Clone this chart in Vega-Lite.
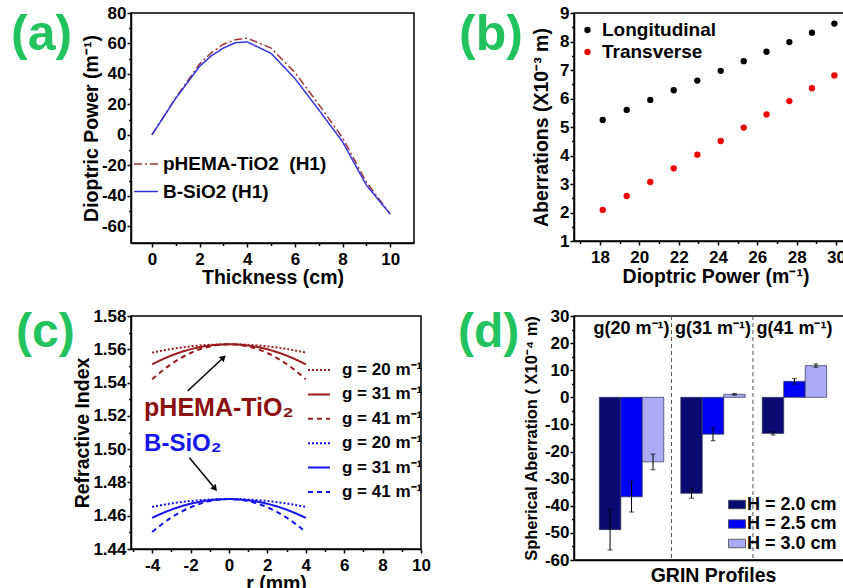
{
  "$schema": "https://vega.github.io/schema/vega-lite/v6.json",
  "padding": {"left": 10, "top": 3, "right": 0, "bottom": 0},
  "columns": 2,
  "bounds": "flush",
  "spacing": {"row": 73, "column": 153},
  "resolve": {"scale": {"color": "independent", "strokeDash": "independent", "xOffset": "independent"}, "legend": {"color": "independent", "strokeDash": "independent"}},
  "config": {
    "font": "Liberation Sans",
    "view": {"stroke": "black", "strokeWidth": 1.5},
    "title": {"anchor": "start", "frame": "group", "fontSize": 50, "fontWeight": "bold", "color": "#22c35e", "baseline": "alphabetic", "offset": 0, "font": "Liberation Sans"},
    "axis": {"labelFont": "Liberation Sans", "labelFontSize": 17, "labelFontWeight": "bold", "labelColor": "black", "titleFont": "Liberation Sans", "titleFontSize": 19.5, "titleFontWeight": "bold", "titleColor": "black", "domainColor": "black", "domainWidth": 1.5, "tickColor": "black", "tickWidth": 1.5, "grid": false, "labelFlush": false, "labelOverlap": false, "labelBound": false},
    "axisX": {"labelPadding": 4, "titlePadding": 1},
    "axisY": {"labelPadding": 1, "titlePadding": 0},
    "legend": {"labelFont": "Liberation Sans", "labelFontWeight": "bold", "labelColor": "black", "padding": 0, "orient": "none", "labelLimit": 300}
  },
  "concat": [
    {
      "width": 283, "height": 230,
      "title": {"text": "(a)", "dx": -120, "dy": 60},
      "data": {"values": [
        {"s": "pHEMA-TiO2 \u00a0(H1)", "t": 0, "p": 0}, {"s": "pHEMA-TiO2 \u00a0(H1)", "t": 1, "p": 24.5}, {"s": "pHEMA-TiO2 \u00a0(H1)", "t": 2, "p": 46.5}, {"s": "pHEMA-TiO2 \u00a0(H1)", "t": 2.5, "p": 54}, {"s": "pHEMA-TiO2 \u00a0(H1)", "t": 3, "p": 59.5}, {"s": "pHEMA-TiO2 \u00a0(H1)", "t": 3.5, "p": 62.5}, {"s": "pHEMA-TiO2 \u00a0(H1)", "t": 4, "p": 63.5}, {"s": "pHEMA-TiO2 \u00a0(H1)", "t": 5, "p": 57}, {"s": "pHEMA-TiO2 \u00a0(H1)", "t": 6, "p": 41}, {"s": "pHEMA-TiO2 \u00a0(H1)", "t": 7, "p": 20}, {"s": "pHEMA-TiO2 \u00a0(H1)", "t": 8, "p": -2}, {"s": "pHEMA-TiO2 \u00a0(H1)", "t": 9, "p": -31}, {"s": "pHEMA-TiO2 \u00a0(H1)", "t": 10, "p": -52},
        {"s": "B-SiO2 (H1)", "t": 0, "p": 0}, {"s": "B-SiO2 (H1)", "t": 1, "p": 24}, {"s": "B-SiO2 (H1)", "t": 2, "p": 45}, {"s": "B-SiO2 (H1)", "t": 2.5, "p": 52}, {"s": "B-SiO2 (H1)", "t": 3, "p": 57}, {"s": "B-SiO2 (H1)", "t": 3.5, "p": 60.5}, {"s": "B-SiO2 (H1)", "t": 4, "p": 61}, {"s": "B-SiO2 (H1)", "t": 5, "p": 53.5}, {"s": "B-SiO2 (H1)", "t": 6, "p": 37}, {"s": "B-SiO2 (H1)", "t": 7, "p": 16.5}, {"s": "B-SiO2 (H1)", "t": 8, "p": -4.5}, {"s": "B-SiO2 (H1)", "t": 9, "p": -33}, {"s": "B-SiO2 (H1)", "t": 10, "p": -52}
      ]},
      "mark": {"type": "line", "strokeWidth": 1.5},
      "encoding": {
        "x": {"field": "t", "type": "quantitative", "scale": {"domain": [-0.88, 11], "nice": false, "zero": false},
          "axis": {"title": "Thickness (cm)", "values": [0,1,2,3,4,5,6,7,8,9,10], "labelExpr": "datum.value % 2 === 0 ? datum.label : ''", "tickSize": {"condition": {"test": "datum.value % 2 !== 0", "value": 2.5}, "value": 4}}},
        "y": {"field": "p", "type": "quantitative", "scale": {"domain": [-71, 80], "nice": false},
          "axis": {"title": "Dioptric Power (m⁻¹)", "values": [-60,-50,-40,-30,-20,-10,0,10,20,30,40,50,60,70,80], "labelExpr": "datum.value % 20 === 0 ? replace(datum.label, '−', '-') : ''", "tickSize": {"condition": {"test": "datum.value % 20 !== 0", "value": 2.5}, "value": 4}}},
        "color": {"field": "s", "type": "nominal", "scale": {"domain": ["pHEMA-TiO2 \u00a0(H1)", "B-SiO2 (H1)"], "range": ["#9a3434", "#3535e0"]},
          "legend": {"title": null, "legendX": 2, "legendY": 138, "symbolType": "stroke", "symbolSize": 576, "symbolStrokeWidth": 1.5, "labelFontSize": 19, "labelOffset": 4, "rowPadding": 4.5}},
        "strokeDash": {"field": "s", "type": "nominal", "scale": {"domain": ["pHEMA-TiO2 \u00a0(H1)", "B-SiO2 (H1)"], "range": [[8,3,2,3],[1,0]]},
          "legend": {"title": null, "legendX": 2, "legendY": 138, "symbolType": "stroke", "symbolSize": 576, "symbolStrokeWidth": 1.5, "labelFontSize": 19, "labelOffset": 4, "rowPadding": 4.5}}
      }
    },
    {
      "width": 283, "height": 228,
      "title": {"text": "(b)", "dx": -115, "dy": 60},
      "data": {"values": [
        {"s": "Longitudinal", "d": 18.14, "a": 5.25}, {"s": "Longitudinal", "d": 19.36, "a": 5.6}, {"s": "Longitudinal", "d": 20.56, "a": 5.95}, {"s": "Longitudinal", "d": 21.75, "a": 6.29}, {"s": "Longitudinal", "d": 22.95, "a": 6.63}, {"s": "Longitudinal", "d": 24.14, "a": 6.97}, {"s": "Longitudinal", "d": 25.31, "a": 7.31}, {"s": "Longitudinal", "d": 26.47, "a": 7.64}, {"s": "Longitudinal", "d": 27.63, "a": 7.98}, {"s": "Longitudinal", "d": 28.78, "a": 8.31}, {"s": "Longitudinal", "d": 29.92, "a": 8.63},
        {"s": "Transverse", "d": 18.14, "a": 2.09}, {"s": "Transverse", "d": 19.36, "a": 2.58}, {"s": "Transverse", "d": 20.56, "a": 3.07}, {"s": "Transverse", "d": 21.75, "a": 3.55}, {"s": "Transverse", "d": 22.95, "a": 4.03}, {"s": "Transverse", "d": 24.14, "a": 4.51}, {"s": "Transverse", "d": 25.31, "a": 4.98}, {"s": "Transverse", "d": 26.47, "a": 5.44}, {"s": "Transverse", "d": 27.63, "a": 5.91}, {"s": "Transverse", "d": 28.78, "a": 6.36}, {"s": "Transverse", "d": 29.92, "a": 6.81}
      ]},
      "mark": {"type": "circle", "size": 40, "opacity": 1},
      "encoding": {
        "x": {"field": "d", "type": "quantitative", "scale": {"domain": [16.68, 31.07], "nice": false, "zero": false},
          "axis": {"title": "Dioptric Power (m⁻¹)", "titlePadding": 2, "values": [17,18,19,20,21,22,23,24,25,26,27,28,29,30,31], "labelExpr": "datum.value % 2 === 0 ? datum.label : ''", "tickSize": {"condition": {"test": "datum.value % 2 !== 0", "value": 2.5}, "value": 4}}},
        "y": {"field": "a", "type": "quantitative", "scale": {"domain": [1, 9], "nice": false, "zero": false},
          "axis": {"title": "Aberrations (X10⁻³ m)", "titlePadding": 8, "values": [1,1.5,2,2.5,3,3.5,4,4.5,5,5.5,6,6.5,7,7.5,8,8.5,9], "labelExpr": "datum.value % 1 === 0 ? format(datum.value, 'd') : ''", "tickSize": {"condition": {"test": "datum.value % 1 !== 0", "value": 2.5}, "value": 4}}},
        "color": {"field": "s", "type": "nominal", "scale": {"domain": ["Longitudinal", "Transverse"], "range": ["#000000", "#f00000"]},
          "legend": {"title": null, "legendX": 4, "legendY": 7.5, "symbolType": "circle", "symbolSize": 40, "labelFontSize": 19, "labelOffset": 5, "rowPadding": 2}}
      }
    },
    {
      "width": 290, "height": 233,
      "title": {"text": "(c)", "dx": -115, "dy": 54, "fontSize": 48},
      "encoding": {
        "x": {"field": "r", "type": "quantitative", "scale": {"domain": [-5.1, 10], "nice": false, "zero": false},
          "axis": {"title": "r (mm)", "values": [-5,-4,-3,-2,-1,0,1,2,3,4,5,6,7,8,9,10], "labelExpr": "datum.value % 2 === 0 ? replace(datum.label, '−', '-') : ''", "tickSize": {"condition": {"test": "datum.value % 2 !== 0", "value": 2.5}, "value": 4}}},
        "y": {"field": "n", "type": "quantitative", "scale": {"domain": [1.44, 1.58], "nice": false, "zero": false},
          "axis": {"title": "Refractive Index", "values": [1.44,1.45,1.46,1.47,1.48,1.49,1.5,1.51,1.52,1.53,1.54,1.55,1.56,1.57,1.58], "labelExpr": "round(datum.value*100) % 2 === 0 ? format(datum.value, '.2f') : ''", "tickSize": {"condition": {"test": "round(datum.value*100) % 2 !== 0", "value": 2.5}, "value": 4}}}
      },
      "layer": [
        {
          "data": {"values": [
            {"s": "P20", "r": -4, "n": 1.558}, {"s": "P20", "r": -3, "n": 1.56019}, {"s": "P20", "r": -2, "n": 1.56175}, {"s": "P20", "r": -1, "n": 1.56269}, {"s": "P20", "r": 0, "n": 1.563}, {"s": "P20", "r": 1, "n": 1.56269}, {"s": "P20", "r": 2, "n": 1.56175}, {"s": "P20", "r": 3, "n": 1.56019}, {"s": "P20", "r": 4, "n": 1.558},
            {"s": "P31", "r": -4, "n": 1.55098}, {"s": "P31", "r": -3, "n": 1.55624}, {"s": "P31", "r": -2, "n": 1.56}, {"s": "P31", "r": -1, "n": 1.56225}, {"s": "P31", "r": 0, "n": 1.563}, {"s": "P31", "r": 1, "n": 1.56225}, {"s": "P31", "r": 2, "n": 1.56}, {"s": "P31", "r": 3, "n": 1.55624}, {"s": "P31", "r": 4, "n": 1.55098},
            {"s": "P41", "r": -4, "n": 1.54198}, {"s": "P41", "r": -3, "n": 1.55118}, {"s": "P41", "r": -2, "n": 1.55775}, {"s": "P41", "r": -1, "n": 1.56169}, {"s": "P41", "r": 0, "n": 1.563}, {"s": "P41", "r": 1, "n": 1.56169}, {"s": "P41", "r": 2, "n": 1.55775}, {"s": "P41", "r": 3, "n": 1.55118}, {"s": "P41", "r": 4, "n": 1.54198},
            {"s": "B20", "r": -4, "n": 1.4653}, {"s": "B20", "r": -3, "n": 1.46735}, {"s": "B20", "r": -2, "n": 1.46882}, {"s": "B20", "r": -1, "n": 1.46971}, {"s": "B20", "r": 0, "n": 1.47}, {"s": "B20", "r": 1, "n": 1.46971}, {"s": "B20", "r": 2, "n": 1.46882}, {"s": "B20", "r": 3, "n": 1.46735}, {"s": "B20", "r": 4, "n": 1.4653},
            {"s": "B31", "r": -4, "n": 1.4587}, {"s": "B31", "r": -3, "n": 1.46364}, {"s": "B31", "r": -2, "n": 1.46717}, {"s": "B31", "r": -1, "n": 1.46929}, {"s": "B31", "r": 0, "n": 1.47}, {"s": "B31", "r": 1, "n": 1.46929}, {"s": "B31", "r": 2, "n": 1.46717}, {"s": "B31", "r": 3, "n": 1.46364}, {"s": "B31", "r": 4, "n": 1.4587},
            {"s": "B41", "r": -4, "n": 1.45023}, {"s": "B41", "r": -3, "n": 1.45888}, {"s": "B41", "r": -2, "n": 1.46506}, {"s": "B41", "r": -1, "n": 1.46876}, {"s": "B41", "r": 0, "n": 1.47}, {"s": "B41", "r": 1, "n": 1.46876}, {"s": "B41", "r": 2, "n": 1.46506}, {"s": "B41", "r": 3, "n": 1.45888}, {"s": "B41", "r": 4, "n": 1.45023}
          ]},
          "mark": {"type": "line", "strokeWidth": 2, "interpolate": "monotone"},
          "encoding": {
            "color": {"field": "s", "type": "nominal", "scale": {"domain": ["P20","P31","P41","B20","B31","B41"], "range": ["#9a1c1c","#9a1c1c","#9a1c1c","#1414f0","#1414f0","#1414f0"]},
              "legend": {"title": null, "legendX": 176, "legendY": 42, "symbolType": "stroke", "symbolSize": 484, "symbolStrokeWidth": 2, "labelFontSize": 17, "labelOffset": 11, "rowPadding": 4.4, "labelExpr": "'g = ' + substring(datum.label, 1) + ' m⁻¹'"}},
            "strokeDash": {"field": "s", "type": "nominal", "scale": {"domain": ["P20","P31","P41","B20","B31","B41"], "range": [[2,2],[1,0],[5,4],[2,2],[1,0],[5,4]]},
              "legend": {"title": null, "legendX": 176, "legendY": 42, "symbolType": "stroke", "symbolSize": 484, "symbolStrokeWidth": 2, "labelFontSize": 17, "labelOffset": 11, "rowPadding": 4.4, "labelExpr": "'g = ' + substring(datum.label, 1) + ' m⁻¹'"}}
          }
        },
        {
          "data": {"values": [{"r": -4.42, "n": 1.525, "t": "pHEMA-TiO₂"}]},
          "mark": {"type": "text", "align": "left", "baseline": "middle", "fontSize": 25, "fontWeight": "bold", "color": "#8b1010"},
          "encoding": {"text": {"field": "t"}}
        },
        {
          "data": {"values": [{"r": -4.42, "n": 1.5031, "t": "B-SiO₂"}]},
          "mark": {"type": "text", "align": "left", "baseline": "middle", "fontSize": 24, "fontWeight": "bold", "color": "#1515ee"},
          "encoding": {"text": {"field": "t"}}
        },
        {
          "data": {"values": [{"r": -2.15, "n": 1.5349, "r2": -0.324, "n2": 1.5546}, {"r": -2.06, "n": 1.4948, "r2": -0.76, "n2": 1.4768}]},
          "mark": {"type": "rule", "strokeWidth": 1.5, "color": "black"},
          "encoding": {"x2": {"field": "r2"}, "y2": {"field": "n2"}}
        },
        {
          "data": {"values": [{"r": -0.324, "n": 1.5546}]},
          "mark": {"type": "point", "shape": "triangle", "angle": 47, "filled": true, "size": 50, "color": "black", "opacity": 1},
          "encoding": {}
        },
        {
          "data": {"values": [{"r": -0.76, "n": 1.4768}]},
          "mark": {"type": "point", "shape": "triangle", "angle": 140, "filled": true, "size": 50, "color": "black", "opacity": 1},
          "encoding": {}
        }
      ]
    },
    {
      "width": 278, "height": 244,
      "title": {"text": "(d)", "dx": -116, "dy": 54, "fontSize": 48},
      "layer": [
        {
          "data": {"values": [
            {"g": "g(20 m⁻¹)", "H": "H = 2.0 cm", "v": -48.8, "lo": -56.3, "hi": -41.3},
            {"g": "g(20 m⁻¹)", "H": "H = 2.5 cm", "v": -36.7, "lo": -42.3, "hi": -31.1},
            {"g": "g(20 m⁻¹)", "H": "H = 3.0 cm", "v": -23.8, "lo": -26.7, "hi": -20.9},
            {"g": "g(31 m⁻¹)", "H": "H = 2.0 cm", "v": -35.4, "lo": -37.2, "hi": -33.6},
            {"g": "g(31 m⁻¹)", "H": "H = 2.5 cm", "v": -13.6, "lo": -16.0, "hi": -11.2},
            {"g": "g(31 m⁻¹)", "H": "H = 3.0 cm", "v": 1.1, "lo": 0.8, "hi": 1.4},
            {"g": "g(41 m⁻¹)", "H": "H = 2.0 cm", "v": -13.3, "lo": -13.9, "hi": -12.7},
            {"g": "g(41 m⁻¹)", "H": "H = 2.5 cm", "v": 5.9, "lo": 4.9, "hi": 6.9},
            {"g": "g(41 m⁻¹)", "H": "H = 3.0 cm", "v": 11.7, "lo": 11.1, "hi": 12.3}
          ]},
          "layer": [
            {
              "mark": {"type": "bar", "stroke": "#333355", "strokeWidth": 0.7},
              "encoding": {
                "x": {"field": "g", "type": "nominal", "scale": {"domain": ["g(20 m⁻¹)", "g(31 m⁻¹)", "g(41 m⁻¹)"], "paddingInner": 0.209, "paddingOuter": 0.311}, "axis": {"title": "GRIN Profiles", "labels": false, "ticks": false, "titlePadding": 6}},
                "xOffset": {"field": "H", "type": "nominal", "scale": {"domain": ["H = 2.0 cm", "H = 2.5 cm", "H = 3.0 cm"], "paddingInner": 0, "paddingOuter": 0}},
                "y": {"field": "v", "type": "quantitative", "scale": {"domain": [-60, 30], "nice": false},
                  "axis": {"title": "Spherical Aberration ( X10⁻⁴ m)", "titleFontSize": 16.5, "titlePadding": 5, "labelOverlap": false, "labelBound": false, "values": [-60,-55,-50,-45,-40,-35,-30,-25,-20,-15,-10,-5,0,5,10,15,20,25,30], "labelExpr": "datum.value % 10 === 0 ? replace(datum.label, '−', '-') : ''", "tickSize": {"condition": {"test": "datum.value % 10 !== 0", "value": 2.5}, "value": 4}}},
                "color": {"field": "H", "type": "nominal", "scale": {"domain": ["H = 2.0 cm", "H = 2.5 cm", "H = 3.0 cm"], "range": ["#0a0a73", "#0000fa", "#aaaaf6"]},
                  "legend": {"title": null, "legendX": 154, "legendY": 179.5, "symbolType": "M-1,-0.5H1V0.5H-1Z", "symbolSize": 289, "symbolStrokeColor": "#444444", "symbolStrokeWidth": 0.8, "labelFontSize": 18, "labelOffset": 1, "rowPadding": 1.5}}
              }
            },
            {
              "mark": {"type": "rule", "color": "black", "strokeWidth": 1},
              "encoding": {
                "x": {"field": "g", "type": "nominal"},
                "xOffset": {"field": "H", "type": "nominal"},
                "y": {"field": "lo", "type": "quantitative", "axis": {"title": "Spherical Aberration ( X10⁻⁴ m)", "titleFontSize": 16.5, "titlePadding": 5, "labelOverlap": false, "labelBound": false, "values": [-60,-55,-50,-45,-40,-35,-30,-25,-20,-15,-10,-5,0,5,10,15,20,25,30], "labelExpr": "datum.value % 10 === 0 ? replace(datum.label, '−', '-') : ''", "tickSize": {"condition": {"test": "datum.value % 10 !== 0", "value": 2.5}, "value": 4}}},
                "y2": {"field": "hi"}
              }
            },
            {
              "mark": {"type": "tick", "color": "black", "thickness": 1, "size": 5},
              "encoding": {
                "x": {"field": "g", "type": "nominal"},
                "xOffset": {"field": "H", "type": "nominal"},
                "y": {"field": "lo", "type": "quantitative", "axis": {"title": "Spherical Aberration ( X10⁻⁴ m)", "titleFontSize": 16.5, "titlePadding": 5, "labelOverlap": false, "labelBound": false, "values": [-60,-55,-50,-45,-40,-35,-30,-25,-20,-15,-10,-5,0,5,10,15,20,25,30], "labelExpr": "datum.value % 10 === 0 ? replace(datum.label, '−', '-') : ''", "tickSize": {"condition": {"test": "datum.value % 10 !== 0", "value": 2.5}, "value": 4}}}
              }
            },
            {
              "mark": {"type": "tick", "color": "black", "thickness": 1, "size": 5},
              "encoding": {
                "x": {"field": "g", "type": "nominal"},
                "xOffset": {"field": "H", "type": "nominal"},
                "y": {"field": "hi", "type": "quantitative", "axis": {"title": "Spherical Aberration ( X10⁻⁴ m)", "titleFontSize": 16.5, "titlePadding": 5, "labelOverlap": false, "labelBound": false, "values": [-60,-55,-50,-45,-40,-35,-30,-25,-20,-15,-10,-5,0,5,10,15,20,25,30], "labelExpr": "datum.value % 10 === 0 ? replace(datum.label, '−', '-') : ''", "tickSize": {"condition": {"test": "datum.value % 10 !== 0", "value": 2.5}, "value": 4}}}
              }
            }
          ]
        },
        {
          "mark": {"type": "rule", "color": "black", "strokeWidth": 1.5},
          "encoding": {"y": {"datum": 0, "type": "quantitative", "axis": {"title": "Spherical Aberration ( X10⁻⁴ m)", "titleFontSize": 16.5, "titlePadding": 5, "labelOverlap": false, "labelBound": false, "values": [-60,-55,-50,-45,-40,-35,-30,-25,-20,-15,-10,-5,0,5,10,15,20,25,30], "labelExpr": "datum.value % 10 === 0 ? replace(datum.label, '−', '-') : ''", "tickSize": {"condition": {"test": "datum.value % 10 !== 0", "value": 2.5}, "value": 4}}}}
        },
        {
          "data": {"values": [{"g": "g(20 m⁻¹)"}, {"g": "g(31 m⁻¹)"}]},
          "mark": {"type": "rule", "color": "#555555", "strokeWidth": 1, "strokeDash": [4, 3]},
          "encoding": {
            "x": {"field": "g", "type": "nominal", "bandPosition": 1.12}
          }
        },
        {
          "data": {"values": [{"g": "g(20 m⁻¹)"}, {"g": "g(31 m⁻¹)"}, {"g": "g(41 m⁻¹)"}]},
          "mark": {"type": "text", "fontSize": 18, "fontWeight": "bold", "color": "black", "baseline": "middle"},
          "encoding": {
            "x": {"field": "g", "type": "nominal"},
            "y": {"datum": 25.2, "type": "quantitative", "axis": {"title": "Spherical Aberration ( X10⁻⁴ m)", "titleFontSize": 16.5, "titlePadding": 5, "labelOverlap": false, "labelBound": false, "values": [-60,-55,-50,-45,-40,-35,-30,-25,-20,-15,-10,-5,0,5,10,15,20,25,30], "labelExpr": "datum.value % 10 === 0 ? replace(datum.label, '−', '-') : ''", "tickSize": {"condition": {"test": "datum.value % 10 !== 0", "value": 2.5}, "value": 4}}},
            "text": {"field": "g"}
          }
        }
      ]
    }
  ]
}
